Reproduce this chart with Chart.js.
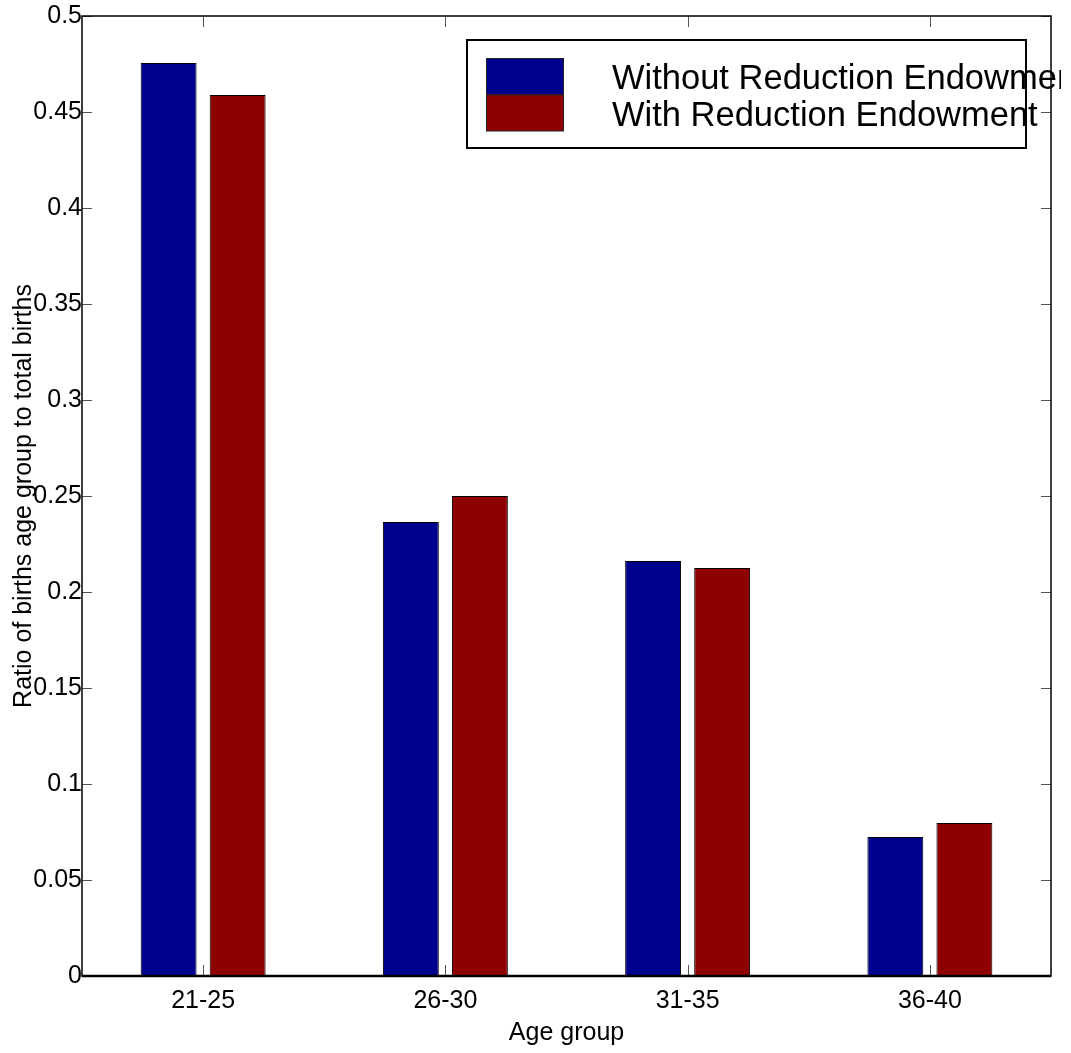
<!DOCTYPE html>
<html>
<head>
<meta charset="utf-8">
<script src="https://cdn.jsdelivr.net/npm/chart.js@4.4.1/dist/chart.umd.min.js"></script>
<style>
  html, body { margin: 0; padding: 0; background: #fff; }
  #wrap { width: 1071px; height: 1053px; }
</style>
</head>
<body>
<div id="wrap"><canvas id="birthsChart"></canvas></div>
<script>
const ageGroups = ["21-25", "26-30", "31-35", "36-40"];
const withoutReduction = [0.4755, 0.2365, 0.2162, 0.0724];
const withReduction = [0.4589, 0.2500, 0.2125, 0.0797];
const seriesNames = ["Without Reduction Endowment", "With Reduction Endowment"];
const seriesColors = ["#00008f", "#8f0000"];

const FONT = "'Liberation Sans', Arial, Helvetica, sans-serif";

// axes box with inward ticks on all four sides
const boxPlugin = {
  id: "box",
  afterDatasetsDraw(chart) {
    const { ctx, chartArea: a, scales } = chart;
    ctx.save();
    ctx.strokeStyle = "#555";
    ctx.lineWidth = 1;
    ctx.beginPath();
    scales.y.ticks.forEach(t => {
      const y = Math.round(scales.y.getPixelForValue(t.value)) + 0.5;
      ctx.moveTo(a.left, y); ctx.lineTo(a.left + 10, y);
      ctx.moveTo(a.right, y); ctx.lineTo(a.right - 10, y);
    });
    ageGroups.forEach((g, i) => {
      const x = Math.round(scales.x.getPixelForValue(i)) + 0.5;
      ctx.moveTo(x, a.bottom); ctx.lineTo(x, a.bottom - 11);
      ctx.moveTo(x, a.top); ctx.lineTo(x, a.top + 11);
    });
    ctx.stroke();

    ctx.strokeStyle = "#000";
    ctx.lineWidth = 1.5;
    ctx.strokeRect(a.left, a.top, a.right - a.left, a.bottom - a.top);
    ctx.lineWidth = 2.5;
    ctx.beginPath();
    ctx.moveTo(a.left, a.bottom); ctx.lineTo(a.right, a.bottom);
    ctx.stroke();
    ctx.restore();
  },
  afterDraw(chart) {
    // legend box in the upper right
    const ctx = chart.ctx;
    ctx.save();
    ctx.fillStyle = "#fff";
    ctx.fillRect(467, 40, 559, 108);
    ctx.strokeStyle = "#000";
    ctx.lineWidth = 2;
    ctx.strokeRect(467, 40, 559, 108);
    chart.data.datasets.forEach((ds, i) => {
      const top = 58 + i * 36.5;
      ctx.fillStyle = ds.backgroundColor;
      ctx.fillRect(486, top, 78, 36.5);
      ctx.strokeStyle = "#222";
      ctx.lineWidth = 1;
      ctx.strokeRect(486.5, top + 0.5, 77, 36);
    });
    ctx.beginPath();
    ctx.rect(0, 0, 1061, 1053);
    ctx.clip();
    ctx.fillStyle = "#000";
    ctx.font = "34.5px " + FONT;
    ctx.textBaseline = "alphabetic";
    ctx.textAlign = "left";
    chart.data.datasets.forEach((ds, i) => {
      ctx.fillText(ds.label, 612, 89 + i * 37);
    });
    ctx.restore();
  }
};

new Chart(document.getElementById("birthsChart"), {
  type: "bar",
  data: {
    labels: ageGroups,
    datasets: [
      {
        label: seriesNames[0],
        data: withoutReduction,
        backgroundColor: seriesColors[0],
        borderColor: "#000",
        borderWidth: 1
      },
      {
        label: seriesNames[1],
        data: withReduction,
        backgroundColor: seriesColors[1],
        borderColor: "#000",
        borderWidth: 1
      }
    ]
  },
  options: {
    responsive: true,
    maintainAspectRatio: false,
    animation: false,
    layout: { padding: { top: 16, right: 20, left: 0, bottom: 0 } },
    categoryPercentage: 0.57,
    barPercentage: 0.81,
    plugins: {
      legend: { display: false },
      tooltip: { enabled: false }
    },
    scales: {
      x: {
        grid: { display: false, drawTicks: false },
        border: { display: false },
        ticks: {
          color: "#000",
          padding: 10,
          font: { family: FONT, size: 25 }
        },
        title: {
          display: true,
          text: "Age group",
          color: "#000",
          padding: { top: 0, bottom: 5 },
          font: { family: FONT, size: 25 }
        },
        afterFit(scale) { scale.width; scale.height = 77; }
      },
      y: {
        min: 0,
        max: 0.5,
        grid: { display: false, drawTicks: false },
        border: { display: false },
        ticks: {
          stepSize: 0.05,
          color: "#000",
          padding: 0,
          font: { family: FONT, size: 25 },
          callback: v => String(Number(v.toFixed(2)))
        },
        title: {
          display: true,
          text: "Ratio of births age group to total births",
          color: "#000",
          padding: { top: 9, bottom: 0 },
          font: { family: FONT, size: 25 }
        },
        afterFit(scale) { scale.width = 82; }
      }
    }
  },
  plugins: [boxPlugin]
});
</script>
</body>
</html>
